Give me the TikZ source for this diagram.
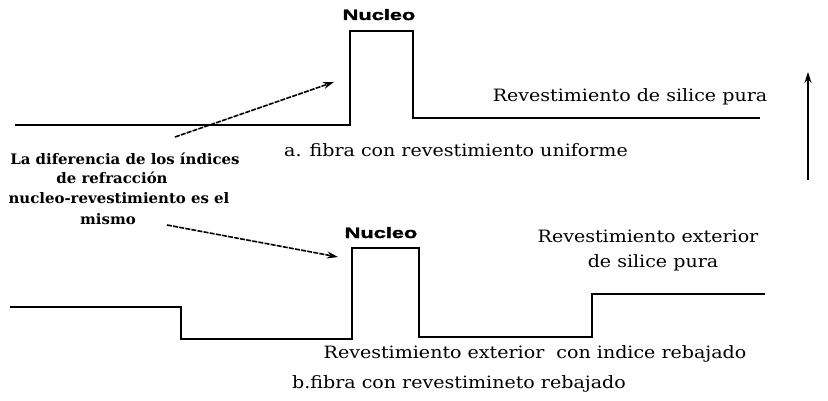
\documentclass[tikz,border=0pt]{standalone}
\usepackage{fontspec}
\setmainfont[FakeStretch=1.12]{DejaVu Serif}
\newfontfamily\notefont[FakeStretch=1.03]{DejaVu Serif}
\newfontfamily\nucfont[FakeBold=1.8]{Liberation Sans Bold}
\usetikzlibrary{arrows.meta}
\tikzset{
  profile/.style={line width=1.7pt, line join=miter},
  pointer/.style={line width=1.6pt, dash pattern=on 5pt off 1.2pt, -{Stealth[length=11pt,width=7pt]}},
  axis/.style={line width=1.5pt, -{Stealth[length=11pt,width=7pt]}},
  lbl/.style={anchor=base, inner sep=0pt, font=\fontsize{17}{19}\selectfont},
  note/.style={anchor=base, inner sep=0pt, font=\notefont\bfseries\fontsize{14.5}{17}\selectfont},
  nuc/.style={anchor=base, inner sep=0pt, font=\nucfont\fontsize{15}{17}\selectfont},
}
\begin{document}
\begin{tikzpicture}[x=1pt,y=-1pt]
\useasboundingbox (0,0) rectangle (828,401);
% profile a
\coordinate (a1) at (15,125);
\coordinate (a2) at (350,125);
\coordinate (a3) at (350,31);
\coordinate (a4) at (413,31);
\coordinate (a5) at (413,118);
\coordinate (a6) at (760,118);
\draw[profile] (a1) -- (a2) -- (a3) -- (a4) -- (a5) -- (a6);
\node[nuc] (nucA) at (379,20) {\scalebox{1.45}[1]{Nucleo}};
\node[lbl] (silA) at (630,102) {Revestimiento de silice pura};
\node[lbl] (capA) at (456,157) {a. fibra con revestimiento uniforme};
% profile b
\coordinate (b1) at (10,307);
\coordinate (b2) at (181,307);
\coordinate (b3) at (181,339);
\coordinate (b4) at (352,339);
\coordinate (b5) at (352,248);
\coordinate (b6) at (419,248);
\coordinate (b7) at (419,337);
\coordinate (b8) at (592,337);
\coordinate (b9) at (592,294);
\coordinate (b10) at (765,294);
\draw[profile] (b1) -- (b2) -- (b3) -- (b4) -- (b5) -- (b6) -- (b7) -- (b8) -- (b9) -- (b10);
\node[nuc] (nucB) at (381,238) {\scalebox{1.45}[1]{Nucleo}};
\node[lbl] (extB1) at (648,243) {Revestimiento exterior};
\node[lbl] (extB2) at (653,267) {de silice pura};
\node[lbl] (rebB) at (535,358) {Revestimiento exterior\ \ con indice rebajado};
\node[lbl] (capB) at (459,388) {b.fibra con revestimineto rebajado};
% left note
\node[note] (n1) at (125,165) {La diferencia de los índices};
\node[note] (n2) at (112,184) {de refracción};
\node[note] (n3) at (119,204) {nucleo-revestimiento es el};
\node[note] (n4) at (108,225) {mismo};
\coordinate (p1s) at (175,137);
\coordinate (p1e) at (334,82);
\coordinate (p2s) at (167,225);
\coordinate (p2e) at (338,257);
\draw[pointer] (p1s) -- (p1e);
\draw[pointer] (p2s) -- (p2e);
% vertical axis
\coordinate (v0) at (808,180);
\coordinate (v1) at (808,72);
\draw[axis] (v0) -- (v1);
\end{tikzpicture}
\end{document}
